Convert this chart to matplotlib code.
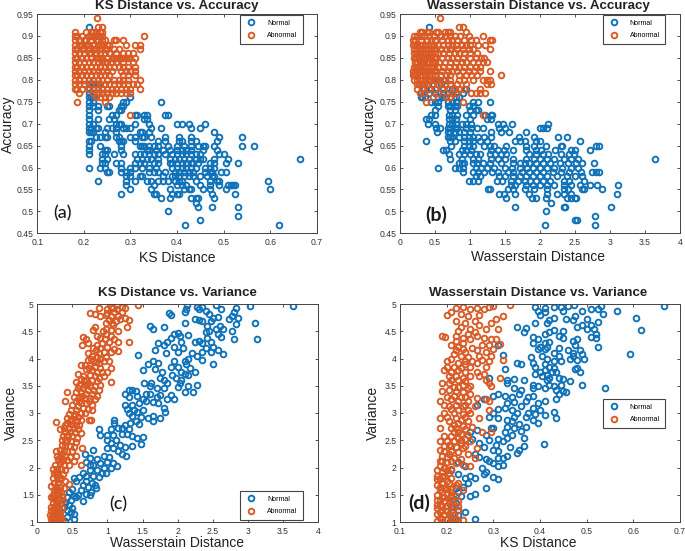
import matplotlib
matplotlib.use("Agg")
import matplotlib.pyplot as plt

BLUE = "#0f72b8"
ORANGE = "#d95a24"
W, H = 685, 551

# accuracy rows used by the two top panels
acc_high = [0.94, 0.92, 0.91, 0.90, 0.89, 0.88, 0.87, 0.86, 0.85, 0.84, 0.83, 0.82, 0.81, 0.80, 0.79, 0.78, 0.77, 0.76, 0.75, 0.72]
acc_low = [0.92, 0.80, 0.79, 0.78, 0.77, 0.76, 0.75, 0.74, 0.73, 0.72, 0.71, 0.70, 0.69, 0.68, 0.67, 0.66, 0.65, 0.64,
           0.63, 0.62, 0.61, 0.60, 0.59, 0.58, 0.57, 0.56, 0.55, 0.54, 0.53, 0.52, 0.51, 0.50, 0.49, 0.48, 0.47]

a_normal = [
    [.21],
    [.21, .22],
    [.21, .22, .23],
    [.21, .22, .24],
    [.21, .22, .23],
    [.21, .215, .22, .30],
    [.21, .22, .285, .29, .365],
    [.21, .22, .23, .25, .255, .28, .285],
    [.21, .23, .275, .28],
    [.21, .26, .27, .31, .315, .33, .335, .375, .38],
    [.21, .23, .255, .265, .33, .335],
    [.21, .22, .27, .275, .28, .34, .31, .40, .41, .425, .46],
    [.21, .215, .225, .23, .25, .26, .27, .285, .29, .30, .345, .365, .43, .45],
    [.21, .215, .22, .245, .27, .32, .325, .34, .48],
    [.225, .235, .245, .25, .27, .275, .30, .31, .325, .33, .345, .375, .405, .43, .49, .54],
    [.21, .215, .275, .28, .285, .31, .36, .375, .405, .41, .43, .44, .485],
    [.21, .235, .28, .32, .325, .33, .34, .35, .36, .38, .40, .415, .43, .445, .455, .46, .48, .54, .565],
    [.21, .245, .25, .28, .335, .34, .355, .37, .385, .40, .41, .42, .43, .455, .485],
    [.21, .24, .245, .265, .285, .31, .32, .33, .34, .35, .36, .375, .39, .40, .41, .42, .43, .44, .45, .49, .50],
    [.24, .25, .315, .325, .335, .345, .36, .385, .395, .405, .415, .425, .44, .45, .455, .48, .51, .665],
    [.24, .245, .27, .28, .31, .32, .33, .35, .36, .385, .39, .40, .41, .42, .43, .435, .445, .47, .48, .505, .53],
    [.21, .235, .245, .28, .30, .31, .325, .34, .355, .39, .40, .41, .42, .43, .44, .46, .47, .48],
    [.25, .255, .28, .29, .30, .34, .35, .36, .375, .395, .405, .415, .425, .435, .46, .47, .475, .495, .505],
    [.29, .30, .32, .325, .37, .39, .395, .405, .415, .425, .435, .45, .465, .475, .48],
    [.23, .29, .31, .335, .345, .36, .37, .38, .395, .405, .41, .44, .47, .485, .49, .595],
    [.29, .35, .40, .41, .42, .45, .47, .49, .51, .515, .52, .525],
    [.30, .345, .385, .415, .425, .43, .455, .47, .505, .60],
    [.28, .35, .355, .39, .40, .405, .475, .525],
    [.365, .385, .43, .44, .445, .48],
    [.44],
    [.445, .475, .53],
    [.38],
    [.53],
    [.45],
    [.417, .618],
]

a_abnormal = [
    [.228],
    [.23, .24],
    [.18, .205, .215, .22, .225, .235, .24],
    [.18, .185, .195, .21, .215, .22, .225, .23, .235, .24, .33],
    [.18, .19, .20, .205, .215, .225, .23, .24, .245, .265, .27, .285],
    [.18, .19, .195, .205, .21, .22, .23, .235, .24, .25, .255, .29, .31, .32],
    [.18, .185, .195, .20, .21, .22, .225, .235, .245, .25, .265, .275, .32],
    [.18, .19, .20, .21, .215, .225, .235, .245, .255, .27, .285, .295, .305],
    [.18, .185, .195, .205, .215, .225, .23, .235, .24, .25, .26, .265, .27, .275, .28, .285, .29, .295, .30, .31],
    [.18, .19, .20, .21, .22, .23, .24, .245, .25, .26, .27, .285, .305],
    [.18, .185, .195, .205, .215, .225, .235, .245, .255, .265, .275, .285, .295, .31],
    [.18, .19, .20, .21, .22, .23, .24, .25, .26, .28, .29, .30, .31],
    [.18, .185, .195, .205, .215, .225, .235, .245, .255, .285, .295, .31],
    [.18, .19, .20, .21, .22, .23, .24, .25, .265, .275, .285, .295, .32],
    [.18, .19, .20, .215, .225, .235, .245, .255, .265, .275, .285, .295, .305, .315],
    [.18, .185, .195, .21, .22, .23, .24, .25, .26, .27, .28, .29, .30, .32],
    [.19, .22, .23, .24, .25, .26, .27, .28, .29, .30],
    [.225, .235, .245, .255],
    [.185, .245],
    [.30],
]

b_normal = [
    [.41],
    [.42, .50, .55, .65],
    [.40, .47, .58],
    [.35, .45, .62, .75, .95],
    [.30, .34, .42, .50, .62, .68, .80, .90],
    [.30, .32, .36, .55, .60, .65, .72, .80, .85],
    [.50, .45, .55, .68, .75, .80, 1.05, 1.12, 1.28],
    [.55, .68, .72, .78, .82, .98, 1.05],
    [.50, .72, .78, 1.0, 1.08, 1.12],
    [.45, .50, .70, .75, .82, .95, 1.05, 1.22, 1.30, 1.32],
    [.37, .42, .70, .75, .80, 1.00, 1.25, 1.30],
    [.40, .50, .70, .75, .80, .88, .95, 1.02, 1.40, 1.47, 1.60, 2.12],
    [.52, .57, .68, .72, .78, .82, .95, 1.02, 1.10, 1.18, 1.42, 1.50, 2.0, 2.05, 2.10],
    [.53, .68, .72, .78, .85, .92, 1.00, 1.30, 1.45, 1.56, 1.80],
    [.68, .72, .75, .85, .92, .98, 1.05, 1.12, 1.20, 1.30, 1.70, 1.92, 2.26, 2.38],
    [.37, .72, .78, .92, .98, 1.05, 1.15, 1.25, 1.65, 1.72, 1.78, 1.95, 2.00, 2.57],
    [.73, .92, .98, 1.05, 1.20, 1.28, 1.35, 1.52, 1.80, 1.92, 2.08, 2.30, 2.32, 2.80, 2.84],
    [.62, .66, .88, .95, 1.02, 1.30, 1.40, 1.48, 1.62, 1.80, 1.95, 2.02, 2.22, 2.45, 2.50, 2.72],
    [.70, .85, .92, 1.00, 1.08, 1.14, 1.28, 1.36, 1.44, 1.52, 1.85, 1.95, 2.05, 2.12, 2.30, 2.42, 2.48],
    [.72, .88, 1.04, 1.12, 1.30, 1.40, 1.50, 1.62, 1.80, 1.92, 2.00, 2.10, 2.20, 2.35, 2.45, 2.55, 3.65],
    [.85, .88, .92, 1.05, 1.10, 1.18, 1.28, 1.44, 1.62, 1.72, 1.78, 1.85, 1.95, 2.05, 2.15, 2.28, 2.40, 2.52, 2.60, 2.77],
    [.54, .78, .85, .90, 1.08, 1.16, 1.25, 1.35, 1.50, 1.60, 1.72, 1.82, 1.90, 2.00, 2.10, 2.20, 2.32, 2.45, 2.55],
    [.90, 1.05, 1.12, 1.20, 1.32, 1.40, 1.55, 1.62, 1.75, 1.85, 1.95, 2.05, 2.18, 2.30, 2.42, 2.58, 2.75, 2.80, 2.84],
    [1.08, 1.15, 1.42, 1.50, 1.62, 1.72, 1.80, 1.90, 2.00, 2.10, 2.25, 2.38, 2.50, 2.60],
    [.98, 1.05, 1.12, 1.38, 1.46, 1.58, 1.68, 1.78, 1.86, 1.95, 2.05, 2.15, 2.35, 2.42, 2.63],
    [1.58, 1.65, 1.80, 1.90, 2.00, 2.10, 2.20, 2.35, 2.45, 2.57, 2.72, 2.82, 3.12],
    [1.26, 1.28, 1.55, 1.62, 1.78, 1.92, 2.10, 2.35, 2.40, 2.60, 2.63, 2.88],
    [1.42, 1.48, 1.65, 1.85, 2.10, 2.25, 2.35, 2.44, 3.10],
    [1.52, 1.88, 1.95, 2.08, 2.38, 2.45, 2.50, 2.52],
    [2.16],
    [1.65, 2.34, 2.36, 3.02],
    [2.09],
    [2.79],
    [2.50, 2.53],
    [2.07, 2.79],
]

b_abnormal = [
    [.57],
    [.85, .90],
    [.28, .32, .38, .42, .52, .55, .65, .68, .72, .95],
    [.20, .25, .30, .35, .42, .48, .58, .64, .72, .78, .86, .98, 1.18],
    [.18, .22, .30, .38, .44, .50, .60, .68, .75, .82, .92, 1.02, 1.08, 1.28, 1.32],
    [.18, .21, .24, .28, .32, .36, .40, .44, .48, .55, .62, .68, .74, .80, .88, .95, 1.00, 1.12, 1.22],
    [.20, .24, .28, .32, .36, .40, .44, .48, .52, .58, .66, .72, .82, .90, .98, 1.05, 1.28],
    [.20, .23, .26, .29, .32, .36, .40, .43, .46, .50, .55, .62, .70, .78, .85, .92, 1.00, 1.10],
    [.20, .22, .24, .27, .30, .34, .38, .41, .44, .48, .52, .60, .68, .75, .82, .90, 1.00, 1.08, 1.16, 1.20],
    [.22, .25, .28, .31, .34, .38, .42, .46, .50, .56, .64, .72, .80, .88, .95, 1.04, 1.12, 1.18, 1.24],
    [.20, .23, .26, .29, .32, .36, .40, .44, .48, .55, .62, .70, .78, .85, .92, 1.00, 1.08, 1.15],
    [.19, .21, .24, .27, .30, .34, .38, .41, .44, .48, .52, .60, .68, .75, .82, .90, .98, 1.06, 1.14, 1.28],
    [.18, .20, .22, .25, .28, .32, .36, .42, .46, .50, .58, .66, .72, .84, .95, 1.02, 1.10, 1.44],
    [.20, .25, .29, .32, .36, .40, .44, .48, .52, .56, .62, .72, .85, .92, 1.05, 1.18, 1.25, 1.29],
    [.24, .27, .30, .34, .38, .46, .54, .64, .72, .82, .95, 1.25, 1.30],
    [.25, .32, .42, .50, .60, .70, .78, .85, .92, 1.15],
    [.28, .35, .55, .75, .82, 1.02, 1.08, 1.15, 1.22],
    [.47, .66, .72],
    [.37, .90],
    [1.18],
]

# (wasserstein, variance)
c_normal = [
    (2.13, 4.98), (2.12, 4.90), (2.10, 4.85), (2.27, 4.95), (2.35, 4.95), (2.30, 4.90), (2.40, 4.88), (2.55, 4.98),
    (2.62, 4.90), (2.45, 4.82), (2.50, 4.75), (2.47, 4.68), (2.58, 4.76), (2.73, 4.73), (2.78, 4.78), (2.80, 4.85),
    (2.83, 4.92), (2.86, 4.75), (2.83, 4.63), (3.03, 4.97), (3.65, 4.97), (3.10, 4.66), (3.13, 4.36), (2.80, 4.35),
    (2.78, 4.50), (2.60, 4.60), (2.65, 4.55), (2.58, 4.45), (2.62, 4.40), (2.42, 4.60), (2.35, 4.68), (2.30, 4.70),
    (2.25, 4.72), (2.10, 4.65), (1.88, 4.84), (1.90, 4.80), (1.60, 4.60), (1.65, 4.55), (1.80, 4.58), (1.95, 4.45),
    (2.00, 4.47), (2.03, 4.42), (2.15, 4.43), (1.90, 4.38), (1.85, 4.30), (1.80, 4.25), (1.72, 4.28), (1.68, 4.15),
    (1.83, 4.10), (2.00, 4.12), (1.95, 4.22), (2.08, 4.20), (2.05, 4.30), (2.25, 4.30), (2.30, 4.33), (2.35, 4.28),
    (2.42, 4.38), (2.47, 4.30), (2.40, 4.20), (2.50, 4.22), (2.58, 4.15), (2.65, 4.08), (2.48, 4.12), (2.35, 4.12),
    (2.28, 4.05), (2.20, 4.10), (2.15, 4.00), (2.10, 3.95), (2.35, 3.97), (2.50, 3.90), (1.44, 4.06), (1.65, 3.95),
    (1.58, 3.90), (1.72, 3.92), (1.68, 3.80), (1.50, 3.78), (1.78, 3.75), (1.75, 3.65), (1.80, 3.60), (1.90, 3.85),
    (1.95, 3.95), (2.00, 3.85), (2.05, 3.75), (2.12, 3.90), (2.18, 3.82), (2.25, 3.75), (2.28, 3.52), (2.10, 3.72),
    (1.92, 3.70), (1.98, 3.65), (2.05, 3.60), (2.15, 3.50), (2.00, 3.47), (2.10, 3.38), (2.22, 3.38), (1.80, 3.45),
    (1.75, 3.33), (1.90, 3.33), (1.95, 3.25), (1.85, 3.25), (1.62, 3.55), (1.52, 3.55), (1.60, 3.50), (1.70, 3.45),
    (1.30, 3.43), (1.35, 3.43), (1.25, 3.35), (1.40, 3.40), (1.30, 3.30), (1.42, 3.32), (1.60, 3.35), (1.70, 3.30),
    (1.50, 3.25), (1.55, 3.22), (1.65, 3.20), (1.45, 3.18), (1.35, 3.15), (1.25, 3.15), (1.28, 3.08), (1.38, 3.05),
    (1.30, 3.00), (1.42, 3.02), (1.50, 3.05), (1.80, 3.10), (1.82, 3.02), (1.75, 2.90), (1.65, 2.95), (1.58, 2.90),
    (1.65, 2.85), (1.48, 2.92), (1.40, 2.85), (1.32, 2.82), (1.25, 2.78), (1.35, 2.95), (1.45, 2.80), (1.20, 2.72),
    (1.30, 2.70), (1.10, 2.88), (1.10, 2.82), (1.15, 2.72), (1.05, 2.70), (1.00, 2.60), (.88, 2.70), (.90, 2.60),
    (1.08, 2.60), (1.20, 2.62), (1.28, 2.62), (1.35, 2.58), (1.42, 2.55), (1.50, 2.56), (1.00, 2.50), (1.05, 2.45),
    (1.12, 2.50), (1.18, 2.42), (1.25, 2.38), (1.35, 2.40), (1.48, 2.43), (1.00, 2.35), (1.08, 2.35), (1.15, 2.30),
    (1.20, 2.25), (1.26, 2.21), (.80, 2.33), (.68, 2.25), (.75, 2.18), (.85, 2.15), (.95, 2.22), (1.02, 2.20),
    (.70, 2.10), (.75, 2.05), (.80, 2.05), (.90, 2.08), (1.00, 2.10), (1.08, 2.08), (.95, 2.00), (1.05, 2.00),
    (1.13, 2.03), (.85, 1.95), (.92, 1.90), (.98, 1.90), (.75, 1.95), (.70, 1.85), (.65, 1.90), (.80, 1.85),
    (.88, 1.82), (.60, 1.82), (.52, 1.80), (.55, 1.75), (.70, 1.75), (.78, 1.72), (.82, 1.68), (.72, 1.65),
    (.65, 1.68), (.83, 1.62), (.76, 1.55), (.70, 1.52), (.75, 1.50), (.62, 1.58), (.58, 1.50), (.50, 1.60),
    (.45, 1.55), (.52, 1.48), (.42, 1.45), (.55, 1.45), (.48, 1.40), (.65, 1.38), (.40, 1.35), (.45, 1.32),
    (.38, 1.28), (.50, 1.25), (.43, 1.22), (.48, 1.18), (.52, 1.15), (.42, 1.10), (.52, 1.05), (.40, 1.02),
    (2.40, 4.48), (2.45, 4.50), (2.55, 4.55), (2.15, 3.70), (2.03, 3.55), (1.85, 3.55), (1.72, 3.18), (1.55, 3.35),
]

c_abnormal = [
    (1.13, 4.98), (1.05, 4.95), (1.20, 4.95), (1.44, 4.98), (1.25, 4.92), (.88, 4.92), (1.00, 4.90), (.75, 4.84),
    (.82, 4.82), (1.10, 4.85), (1.20, 4.85), (.90, 4.78), (.98, 4.80), (1.05, 4.78), (1.15, 4.78), (1.25, 4.75),
    (1.30, 4.70), (1.02, 4.70), (1.12, 4.68), (.98, 4.65), (1.08, 4.62), (1.28, 4.58), (.82, 4.58), (.80, 4.52),
    (.98, 4.55), (1.05, 4.52), (1.15, 4.50), (.98, 4.45), (1.05, 4.42), (.85, 4.42), (.90, 4.38), (.97, 4.35),
    (1.10, 4.35), (.65, 4.39), (.70, 4.35), (.72, 4.28), (.64, 4.25), (1.30, 4.30), (1.15, 4.30), (.92, 4.28),
    (.85, 4.25), (.90, 4.20), (1.00, 4.22), (1.10, 4.18), (.83, 4.15), (.88, 4.10), (.95, 4.12), (1.05, 4.12),
    (1.15, 4.14), (.72, 4.10), (.78, 4.05), (.85, 4.02), (.90, 4.00), (.98, 4.02), (.72, 3.98), (.80, 3.95),
    (.88, 3.92), (.95, 3.95), (1.02, 3.95), (.62, 3.88), (.68, 3.88), (.75, 3.88), (.82, 3.85), (.90, 3.82),
    (1.05, 3.83), (.70, 3.80), (.78, 3.78), (.85, 3.75), (.92, 3.75), (1.00, 3.75), (.58, 3.72), (.65, 3.68),
    (.75, 3.70), (.82, 3.68), (.88, 3.65), (.95, 3.68), (.62, 3.62), (.70, 3.60), (.78, 3.60), (.85, 3.58),
    (1.05, 3.57), (.55, 3.56), (.60, 3.52), (.68, 3.52), (.75, 3.50), (.82, 3.50), (.90, 3.52), (.58, 3.45),
    (.65, 3.45), (.72, 3.42), (.80, 3.42), (.88, 3.42), (.43, 3.38), (.55, 3.38), (.62, 3.38), (.70, 3.35),
    (.78, 3.35), (.85, 3.32), (.52, 3.30), (.60, 3.28), (.68, 3.28), (.75, 3.28), (.82, 3.25), (.40, 3.22),
    (.55, 3.22), (.62, 3.18), (.70, 3.18), (.78, 3.15), (.50, 3.15), (.58, 3.12), (.65, 3.10), (.72, 3.08),
    (.78, 3.05), (.48, 3.05), (.55, 3.05), (.62, 3.00), (.68, 3.00), (.45, 2.98), (.52, 2.95), (.58, 2.92),
    (.42, 2.90), (.50, 2.88), (.56, 2.86), (.62, 2.88), (.73, 2.87), (.76, 2.88), (.27, 2.84), (.42, 2.82),
    (.48, 2.80), (.55, 2.78), (.60, 2.78), (.38, 2.72), (.45, 2.72), (.52, 2.72), (.58, 2.70), (.33, 2.70),
    (.40, 2.65), (.47, 2.65), (.54, 2.65), (.62, 2.63), (.37, 2.58), (.43, 2.58), (.50, 2.58), (.56, 2.55),
    (.35, 2.50), (.42, 2.50), (.48, 2.48), (.55, 2.46), (.35, 2.42), (.40, 2.40), (.46, 2.40), (.52, 2.38),
    (.63, 2.35), (.27, 2.30), (.33, 2.32), (.38, 2.32), (.43, 2.30), (.50, 2.30), (.28, 2.22), (.35, 2.24),
    (.40, 2.22), (.46, 2.20), (.55, 2.22), (.30, 2.15), (.36, 2.14), (.42, 2.14), (.52, 2.12), (.25, 2.05),
    (.32, 2.08), (.38, 2.05), (.45, 2.05), (.62, 2.04), (.22, 1.98), (.28, 1.98), (.34, 1.98), (.40, 1.95),
    (.24, 1.90), (.30, 1.90), (.36, 1.88), (.22, 1.80), (.28, 1.82), (.34, 1.80), (.40, 1.75), (.24, 1.72),
    (.30, 1.72), (.45, 1.70), (.20, 1.66), (.26, 1.65), (.32, 1.65), (.38, 1.62), (.24, 1.58), (.30, 1.58),
    (.34, 1.55), (.22, 1.50), (.28, 1.50), (.35, 1.48), (.20, 1.45), (.25, 1.42), (.31, 1.42), (.36, 1.40),
    (.22, 1.35), (.28, 1.35), (.33, 1.33), (.19, 1.28), (.24, 1.28), (.30, 1.28), (.35, 1.25), (.20, 1.20),
    (.26, 1.20), (.32, 1.18), (.18, 1.12), (.23, 1.12), (.28, 1.12), (.34, 1.10), (.20, 1.05), (.25, 1.05),
    (.30, 1.05), (.35, 1.02), (.22, 1.01), (.28, 1.00), (.33, 1.00),
    (1.08, 4.92), (1.14, 4.90), (1.00, 4.84), (1.18, 4.72), (1.06, 4.66), (.94, 4.50), (1.02, 4.30), (.80, 4.20),
    (.76, 4.00), (.84, 3.94), (.74, 3.82), (.66, 3.58), (.72, 3.55), (.64, 3.32), (.74, 3.22), (.60, 3.22),
    (.54, 2.98), (.46, 2.86), (.40, 2.78), (.44, 2.60), (.39, 2.46), (.32, 2.20), (.34, 2.12), (.26, 1.92),
    (.31, 1.78), (.27, 1.60), (.23, 1.44), (.29, 1.44), (.26, 1.30), (.22, 1.24), (.29, 1.22), (.25, 1.15),
    (.31, 1.14), (.21, 1.10), (.27, 1.08), (.24, 1.00), (.30, 1.00), (.33, 1.08), (.26, 1.38), (.31, 1.52),
]

# (ks, variance)
d_normal = [
    (.473, 4.98), (.46, 4.97), (.445, 4.95), (.53, 4.97), (.665, 4.97), (.565, 4.87), (.51, 4.90), (.49, 4.88),
    (.525, 4.90), (.535, 4.82), (.39, 4.95), (.43, 4.95), (.41, 4.93), (.395, 4.88), (.41, 4.85), (.45, 4.88),
    (.40, 4.80), (.43, 4.75), (.475, 4.78), (.455, 4.72), (.50, 4.72), (.525, 4.67), (.605, 4.75), (.47, 4.70),
    (.42, 4.70), (.415, 4.65), (.39, 4.66), (.35, 4.58), (.37, 4.56), (.365, 4.48), (.49, 4.62), (.48, 4.58),
    (.51, 4.62), (.515, 4.55), (.50, 4.55), (.52, 4.45), (.51, 4.40), (.52, 4.37), (.617, 4.52), (.43, 4.52),
    (.42, 4.48), (.45, 4.50), (.44, 4.42), (.41, 4.45), (.385, 4.40), (.395, 4.35), (.385, 4.28), (.41, 4.28),
    (.42, 4.30), (.45, 4.38), (.47, 4.33), (.48, 4.35), (.475, 4.25), (.525, 4.21), (.40, 4.22), (.41, 4.18),
    (.415, 4.22), (.395, 4.17), (.44, 4.20), (.43, 4.10), (.46, 4.15), (.47, 4.10), (.485, 4.15), (.49, 4.08),
    (.592, 4.09), (.38, 4.02), (.405, 4.05), (.415, 4.00), (.44, 4.05), (.465, 4.00), (.47, 4.05), (.495, 4.00),
    (.48, 3.98), (.35, 3.92), (.36, 3.90), (.385, 3.92), (.41, 3.90), (.43, 3.95), (.445, 3.95), (.48, 3.83),
    (.39, 3.85), (.42, 3.85), (.43, 3.82), (.425, 3.75), (.41, 3.78), (.40, 3.75), (.415, 3.70), (.435, 3.75),
    (.475, 3.80), (.485, 3.75), (.39, 3.72), (.405, 3.68), (.42, 3.65), (.44, 3.65), (.33, 3.60), (.345, 3.62),
    (.365, 3.60), (.33, 3.55), (.415, 3.60), (.45, 3.62), (.465, 3.58), (.385, 3.52), (.395, 3.50), (.42, 3.52),
    (.43, 3.50), (.445, 3.52), (.49, 3.52), (.54, 3.46), (.345, 3.45), (.36, 3.42), (.385, 3.45), (.41, 3.45),
    (.435, 3.42), (.45, 3.40), (.44, 3.35), (.455, 3.38), (.31, 3.35), (.325, 3.32), (.34, 3.30), (.355, 3.35),
    (.375, 3.30), (.385, 3.32), (.41, 3.22), (.435, 3.25), (.30, 3.32), (.33, 3.18), (.345, 3.20), (.37, 3.22),
    (.395, 3.18), (.31, 3.08), (.325, 3.10), (.34, 3.05), (.36, 3.12), (.385, 3.10), (.40, 3.05), (.35, 3.00),
    (.375, 3.00), (.39, 2.98), (.41, 2.97), (.43, 3.02), (.37, 2.93), (.345, 2.92), (.29, 2.92), (.31, 2.90),
    (.33, 2.88), (.385, 2.88), (.395, 2.82), (.435, 2.90), (.34, 2.85), (.355, 2.80), (.33, 2.75), (.30, 2.72),
    (.345, 2.72), (.37, 2.75), (.325, 2.65), (.36, 2.67), (.25, 2.65), (.265, 2.68), (.34, 2.60), (.365, 2.55),
    (.285, 2.60), (.33, 2.55), (.31, 2.52), (.29, 2.50), (.32, 2.48), (.255, 2.52), (.27, 2.45), (.305, 2.42),
    (.408, 2.43), (.335, 2.38), (.365, 2.40), (.355, 2.32), (.35, 2.27), (.28, 2.38), (.30, 2.32), (.31, 2.30),
    (.33, 2.22), (.31, 2.18), (.32, 2.18), (.26, 2.25), (.27, 2.20), (.285, 2.15), (.29, 2.12), (.31, 2.03),
    (.32, 2.05), (.30, 2.08), (.275, 2.00), (.285, 1.92), (.28, 1.88), (.30, 1.82), (.31, 1.78), (.26, 1.80),
    (.25, 1.85), (.24, 1.80), (.245, 1.72), (.235, 1.65), (.285, 1.63), (.22, 1.62), (.225, 1.55), (.26, 1.52),
    (.25, 1.47), (.23, 1.48), (.215, 1.42), (.22, 1.35), (.21, 1.28), (.225, 1.22), (.24, 1.19), (.225, 1.13),
    (.21, 1.10), (.26, 1.05), (.21, 1.02), (.215, 1.00), (.21, 1.95), (.225, 2.10), (.24, 2.02), (.225, 1.88),
    (.29, 3.65), (.265, 3.15), (.28, 3.25), (.31, 4.25), (.32, 4.07), (.325, 3.80), (.30, 3.00), (.295, 2.72),
]

d_abnormal = [
    (.335, 4.98), (.30, 4.97), (.29, 4.95), (.28, 4.90), (.235, 4.95), (.22, 4.92), (.25, 4.90), (.265, 4.92),
    (.21, 4.85), (.20, 4.80), (.23, 4.82), (.245, 4.78), (.27, 4.80), (.32, 4.78), (.305, 4.72), (.295, 4.65),
    (.22, 4.68), (.24, 4.65), (.26, 4.68), (.27, 4.62), (.285, 4.55), (.31, 4.55), (.23, 4.58), (.25, 4.55),
    (.225, 4.50), (.245, 4.45), (.26, 4.48), (.265, 4.42), (.19, 4.42), (.197, 4.40), (.22, 4.42), (.235, 4.38),
    (.28, 4.38), (.295, 4.35), (.305, 4.36), (.22, 4.32), (.235, 4.28), (.315, 4.27), (.21, 4.25), (.29, 4.25),
    (.225, 4.22), (.255, 4.20), (.265, 4.15), (.30, 4.18), (.22, 4.15), (.24, 4.12), (.285, 4.12), (.215, 4.08),
    (.23, 4.05), (.245, 4.02), (.27, 4.05), (.295, 4.05), (.21, 4.00), (.255, 3.95), (.275, 3.98), (.29, 3.95),
    (.32, 3.98), (.20, 3.95), (.225, 3.92), (.24, 3.90), (.265, 3.92), (.20, 3.85), (.215, 3.85), (.23, 3.82),
    (.25, 3.85), (.285, 3.85), (.195, 3.78), (.21, 3.75), (.225, 3.78), (.24, 3.75), (.265, 3.75), (.28, 3.72),
    (.27, 3.68), (.205, 3.68), (.22, 3.68), (.235, 3.65), (.25, 3.68), (.315, 3.64), (.285, 3.60), (.21, 3.60),
    (.225, 3.60), (.24, 3.58), (.19, 3.55), (.205, 3.55), (.235, 3.52), (.25, 3.50), (.29, 3.55), (.295, 3.50),
    (.225, 3.48), (.245, 3.45), (.19, 3.40), (.205, 3.42), (.22, 3.40), (.235, 3.38), (.25, 3.35), (.215, 3.32),
    (.23, 3.30), (.265, 3.28), (.285, 3.25), (.29, 3.22), (.185, 3.22), (.21, 3.25), (.225, 3.22), (.245, 3.22),
    (.195, 3.15), (.22, 3.15), (.235, 3.12), (.26, 3.12), (.21, 3.08), (.225, 3.05), (.245, 3.05), (.29, 3.05),
    (.195, 3.00), (.215, 3.00), (.235, 2.98), (.25, 3.00), (.185, 2.90), (.20, 2.92), (.22, 2.90), (.24, 2.92),
    (.27, 2.90), (.205, 2.85), (.225, 2.82), (.245, 2.85), (.215, 2.78), (.235, 2.76), (.255, 2.75), (.185, 2.72),
    (.22, 2.72), (.24, 2.70), (.275, 2.65), (.295, 2.65), (.215, 2.65), (.23, 2.62), (.245, 2.60), (.195, 2.58),
    (.21, 2.58), (.225, 2.55), (.24, 2.52), (.185, 2.48), (.20, 2.48), (.215, 2.48), (.23, 2.45), (.25, 2.48),
    (.21, 2.40), (.22, 2.38), (.24, 2.40), (.265, 2.35), (.185, 2.32), (.195, 2.30), (.21, 2.30), (.225, 2.28),
    (.245, 2.25), (.19, 2.22), (.20, 2.20), (.215, 2.18), (.23, 2.15), (.26, 2.18), (.185, 2.12), (.20, 2.10),
    (.22, 2.08), (.235, 2.05), (.25, 2.03), (.185, 2.02), (.195, 2.00), (.21, 1.98), (.18, 1.95), (.19, 1.92),
    (.205, 1.90), (.18, 1.85), (.195, 1.82), (.21, 1.80), (.185, 1.78), (.19, 1.72), (.205, 1.72), (.22, 1.68),
    (.18, 1.68), (.195, 1.62), (.21, 1.60), (.235, 1.58), (.185, 1.58), (.20, 1.52), (.18, 1.50), (.19, 1.45),
    (.21, 1.48), (.18, 1.40), (.195, 1.38), (.21, 1.40), (.225, 1.38), (.185, 1.32), (.20, 1.30), (.215, 1.28),
    (.18, 1.25), (.19, 1.22), (.21, 1.20), (.225, 1.22), (.18, 1.15), (.195, 1.12), (.215, 1.12), (.185, 1.08),
    (.20, 1.05), (.22, 1.05), (.18, 1.02), (.19, 1.00), (.21, 1.00), (.236, 1.04), (.225, 1.00),
    (.215, 3.48), (.20, 3.30), (.24, 3.30), (.205, 3.12), (.24, 3.15), (.23, 2.88), (.21, 2.72), (.225, 2.66),
    (.23, 2.50), (.205, 2.42), (.195, 2.40), (.235, 2.35), (.205, 2.25), (.19, 2.12), (.21, 2.12), (.20, 1.95),
    (.19, 1.85), (.18, 1.78), (.20, 1.75), (.185, 1.65), (.20, 1.60), (.19, 1.55), (.21, 1.55), (.195, 1.46),
    (.185, 1.40), (.205, 1.35), (.19, 1.30), (.18, 1.32), (.20, 1.20), (.185, 1.18), (.205, 1.14), (.19, 1.05),
    (.21, 1.08), (.225, 1.30), (.22, 1.48), (.225, 1.72), (.24, 3.95), (.235, 4.18), (.25, 4.35), (.275, 4.25),
]

ks_ticks = [0.1, 0.2, 0.3, 0.4, 0.5, 0.6, 0.7]
w_ticks = [0, 0.5, 1, 1.5, 2, 2.5, 3, 3.5, 4]
acc_ticks = [0.45, 0.5, 0.55, 0.6, 0.65, 0.7, 0.75, 0.8, 0.85, 0.9, 0.95]
var_ticks = [1, 1.5, 2, 2.5, 3, 3.5, 4, 4.5, 5]


def rows_to_xy(rows, levels):
    xs, ys = [], []
    for row, level in zip(rows, levels):
        xs += row
        ys += [level] * len(row)
    return xs, ys


def make_axes(x0, y0, x1, y1):
    return fig.add_axes([x0 / W, 1 - y1 / H, (x1 - x0) / W, (y1 - y0) / H])


def fig_text(x, y, s, **kw):
    fig.text(x / W, 1 - y / H, s, ha="center", va="center", **kw)


def draw_panel(box, normal, abnormal, xticks, yticks, titles, labels, legend_box, tag):
    ax = make_axes(*box)
    style = dict(ls="none", marker="o", ms=4.1, mfc="none", mew=1.35)
    ax.plot(normal[0], normal[1], color=BLUE, label="Normal", **style)
    ax.plot(abnormal[0], abnormal[1], color=ORANGE, label="Abnormal", **style)
    ax.set_xlim(xticks[0], xticks[-1])
    ax.set_ylim(yticks[0], yticks[-1])
    ax.set_xticks(xticks, [f"{v:g}" for v in xticks])
    ax.set_yticks(yticks, [f"{v:g}" for v in yticks])
    ax.tick_params(direction="in", top=True, right=True, length=2.2, width=0.6, labelsize=6.2, colors="#333333")
    ax.tick_params(axis="x", pad=3.5)
    ax.tick_params(axis="y", pad=2.5)
    for side in ax.spines.values():
        side.set_linewidth(0.7)
        side.set_color("#444444")

    x0, y0, x1, y1 = box
    lx0, ly0, lx1, ly1 = legend_box
    leg = ax.legend(
        loc="center",
        bbox_to_anchor=(((lx0 + lx1) / 2 - x0) / (x1 - x0), 1 - ((ly0 + ly1) / 2 - y0) / (y1 - y0)),
        fontsize=5, frameon=True, fancybox=False, framealpha=1, edgecolor="#444444",
        borderpad=0.75, labelspacing=0.75, handlelength=1.6, handletextpad=1.5, borderaxespad=0,
    )
    leg.get_frame().set_linewidth(0.8)

    fig_text(titles[0], titles[1], titles[2], fontsize=9.6, fontweight="bold", color="#222222")
    fig_text(labels[0], labels[1], labels[2], fontsize=10, color="#222222")
    fig_text(labels[3], labels[4], labels[5], fontsize=10, rotation=90, color="#222222")
    fig_text(tag[0], tag[1], tag[2], fontsize=tag[3], fontweight=tag[4], color="#1a1a1a", family="Lato")
    return ax


plt.rcParams["font.family"] = ["Liberation Sans", "DejaVu Sans"]
fig = plt.figure(figsize=(W / 100, H / 100), dpi=100)

draw_panel((37.3, 14, 316.7, 233.3), rows_to_xy(a_normal, acc_low), rows_to_xy(a_abnormal, acc_high),
           ks_ticks, acc_ticks, (177, 6.5, "KS Distance vs. Accuracy"),
           (177, 258, "KS Distance", 8, 124, "Accuracy"), (238, 17, 305, 42), (62, 213, "(a)", 13, "medium"))
draw_panel((400, 14, 680, 233.3), rows_to_xy(b_normal, acc_low), rows_to_xy(b_abnormal, acc_high),
           w_ticks, acc_ticks, (538, 6.5, "Wasserstain Distance vs. Accuracy"),
           (538, 257, "Wasserstain Distance", 370, 124, "Accuracy"), (601, 17, 667, 42), (436, 215, "(b)", 14, "bold"))
draw_panel((37.3, 304, 318, 522), tuple(zip(*c_normal)), tuple(zip(*c_abnormal)),
           w_ticks, var_ticks, (177, 293, "KS Distance vs. Variance"),
           (177, 543, "Wasserstain Distance", 11, 413, "Variance"), (238, 494, 305, 517), (118, 504, "(c)", 13, "medium"))
draw_panel((400, 304, 680, 522), tuple(zip(*d_normal)), tuple(zip(*d_abnormal)),
           ks_ticks, var_ticks, (538, 293, "Wasserstain Distance vs. Variance"),
           (538, 543, "KS Distance", 373, 413, "Variance"), (601, 402, 667, 425), (419, 503, "(d)", 14, "bold"))

fig.savefig("out.png", dpi=100)
